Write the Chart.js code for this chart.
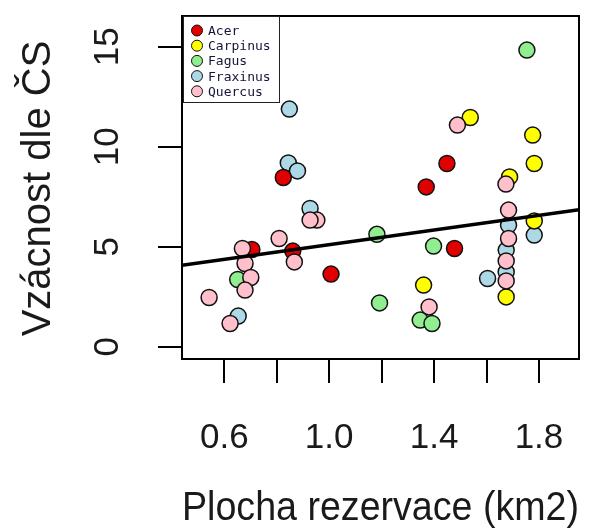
<!DOCTYPE html>
<html><head><meta charset="utf-8">
<script src="https://cdn.jsdelivr.net/npm/chart.js@4"></script>
<style>html,body{margin:0;padding:0;background:#fff;overflow:hidden}</style>
</head><body>
<canvas id="c" width="595" height="529"></canvas>
<script>
// ---- data ----
const speciesNames  = ['Acer', 'Carpinus', 'Fagus', 'Fraxinus', 'Quercus'];
const speciesColors = ['#E00000', '#FFFF00', '#90EE90', '#ADD8E6', '#FFC0CB'];

const acerX     = [0.825, 0.705, 0.861, 1.007, 1.449, 1.370, 1.478];
const acerY     = [8.46, 4.86, 4.78, 3.63, 9.16, 7.99, 4.91];

const carpinusX = [1.538, 1.776, 1.782, 1.688, 1.782, 1.675, 1.360];
const carpinusY = [11.46, 10.58, 9.16, 8.49, 6.29, 2.49, 3.08];

const fagusX    = [1.754, 1.182, 1.192, 1.398, 1.347, 1.392, 0.651];
const fagusY    = [14.83, 5.62, 2.19, 5.03, 1.33, 1.16, 3.36];

const fraxinusX = [0.848, 0.844, 0.879, 0.927, 0.653, 1.684, 1.782, 1.675, 1.675, 1.604];
const fraxinusY = [11.88, 9.19, 8.79, 6.91, 1.53, 6.08, 5.58, 4.83, 3.74, 3.41];

const quercusX  = [0.953, 0.927, 0.809, 0.669, 0.679, 0.867, 0.701, 0.679, 0.542, 0.622,
                   1.489, 1.674, 1.684, 1.684, 1.675, 1.675, 1.381];
const quercusY  = [6.33, 6.33, 5.41, 4.91, 4.16, 4.24, 3.46, 2.83, 2.46, 1.16,
                   11.08, 8.13, 6.83, 5.41, 4.29, 3.29, 1.99];

const fitIntercept = 3.265;
const fitSlope     = 1.835;

const xTickValues = [0.6, 0.8, 1.0, 1.2, 1.4, 1.6, 1.8];
const xTickLabels = ['0.6', '', '1.0', '', '1.4', '', '1.8'];
const yTickValues = [0, 5, 10, 15];
const yTickLabels = ['0', '5', '10', '15'];

const xTitle = 'Plocha rezervace (km2)';
const yTitle = 'Vzácnost dle ČS';

const xMin = 0.4386, xMax = 1.9527;
const yMin = -0.615, yMax = 16.535;

// ---- build ----
function pts(xs, ys) { return xs.map((x, i) => ({ x: x, y: ys[i] })); }
const seriesX = [acerX, carpinusX, fagusX, fraxinusX, quercusX];
const seriesY = [acerY, carpinusY, fagusY, fraxinusY, quercusY];
const drawOrder = [3, 2, 5, 4, 1]; // higher = drawn earlier

const datasets = speciesNames.map((name, i) => ({
  type: 'scatter',
  label: name,
  data: pts(seriesX[i], seriesY[i]),
  backgroundColor: speciesColors[i],
  borderColor: '#111',
  borderWidth: 1.5,
  pointRadius: 8,
  pointHoverRadius: 8,
  order: drawOrder[i]
}));

datasets.push({
  type: 'line',
  label: 'fit',
  data: [xMin, xMax].map(x => ({ x: x, y: fitIntercept + fitSlope * x })),
  borderColor: '#000',
  borderWidth: 3.5,
  pointRadius: 0,
  fill: false,
  order: 0
});

const FONT = 'Liberation Sans, Arial, sans-serif';

const extras = {
  id: 'extras',
  afterDraw(chart) {
    const ctx = chart.ctx;
    const ca = chart.chartArea;
    const ys = chart.scales.y;
    ctx.save();
    // plot box
    ctx.strokeStyle = '#000';
    ctx.lineWidth = 2;
    ctx.strokeRect(ca.left, ca.top, ca.right - ca.left, ca.bottom - ca.top);

    // y tick labels (rotated, as in R)
    ctx.fillStyle = '#1a1a1a';
    ctx.font = '35px ' + FONT;
    ctx.textAlign = 'center';
    ctx.textBaseline = 'alphabetic';
    yTickValues.forEach((v, i) => {
      const py = ys.getPixelForValue(v);
      ctx.save();
      ctx.translate(118, py);
      ctx.rotate(-Math.PI / 2);
      ctx.fillText(yTickLabels[i], 0, 0);
      ctx.restore();
    });

    // y title
    ctx.save();
    ctx.font = '40px ' + FONT;
    ctx.translate(50, (ca.top + ca.bottom) / 2 + 1);
    ctx.rotate(-Math.PI / 2);
    ctx.fillText(yTitle, 0, 0);
    ctx.restore();

    // legend
    const lx = ca.left + 1, ly = ca.top, lw = 96, lh = 86;
    ctx.fillStyle = '#fff';
    ctx.fillRect(lx, ly, lw, lh);
    ctx.strokeStyle = '#222';
    ctx.lineWidth = 1;
    ctx.strokeRect(lx + 0.5, ly + 0.5, lw, lh);
    ctx.font = '13px DejaVu Sans Mono, monospace';
    ctx.textAlign = 'left';
    speciesNames.forEach((name, i) => {
      const cy = ly + 14.5 + i * 15.2;
      ctx.beginPath();
      ctx.arc(lx + 14, cy, 5.5, 0, Math.PI * 2);
      ctx.fillStyle = speciesColors[i];
      ctx.fill();
      ctx.strokeStyle = '#111';
      ctx.lineWidth = 1;
      ctx.stroke();
      ctx.fillStyle = '#141438';
      ctx.fillText(name, lx + 25, cy + 4.5);
    });
    ctx.restore();
  }
};

new Chart(document.getElementById('c'), {
  data: { datasets: datasets },
  options: {
    responsive: false,
    animation: false,
    devicePixelRatio: 1,
    layout: { autoPadding: false, padding: { top: 16, right: 16, left: 0, bottom: 0 } },
    plugins: { legend: { display: false }, tooltip: { enabled: false } },
    scales: {
      x: {
        type: 'linear', min: xMin, max: xMax,
        afterBuildTicks: s => { s.ticks = xTickValues.map(v => ({ value: v })); },
        afterFit: s => { s.height = 170; s.paddingLeft = 0; s.paddingRight = 0; },
        grid: { drawOnChartArea: false, drawTicks: true, tickLength: 24, color: '#000', lineWidth: 2 },
        border: { display: true, color: '#000', width: 2 },
        ticks: {
          callback: (v, i) => xTickLabels[i],
          font: { family: FONT, size: 35 },
          color: '#1a1a1a', padding: 34, maxRotation: 0, minRotation: 0, autoSkip: false
        },
        title: {
          display: true, text: xTitle, color: '#1a1a1a',
          font: { family: FONT, size: 40, lineHeight: 1 },
          padding: { top: 0, bottom: 0 }
        }
      },
      y: {
        type: 'linear', min: yMin, max: yMax,
        afterBuildTicks: s => { s.ticks = yTickValues.map(v => ({ value: v })); },
        afterFit: s => { s.width = 182; s.paddingTop = 0; s.paddingBottom = 0; },
        grid: { drawOnChartArea: false, drawTicks: true, tickLength: 24, color: '#000', lineWidth: 2 },
        border: { display: true, color: '#000', width: 2 },
        ticks: { display: false }
      }
    }
  },
  plugins: [extras]
});
</script>
</body></html>
